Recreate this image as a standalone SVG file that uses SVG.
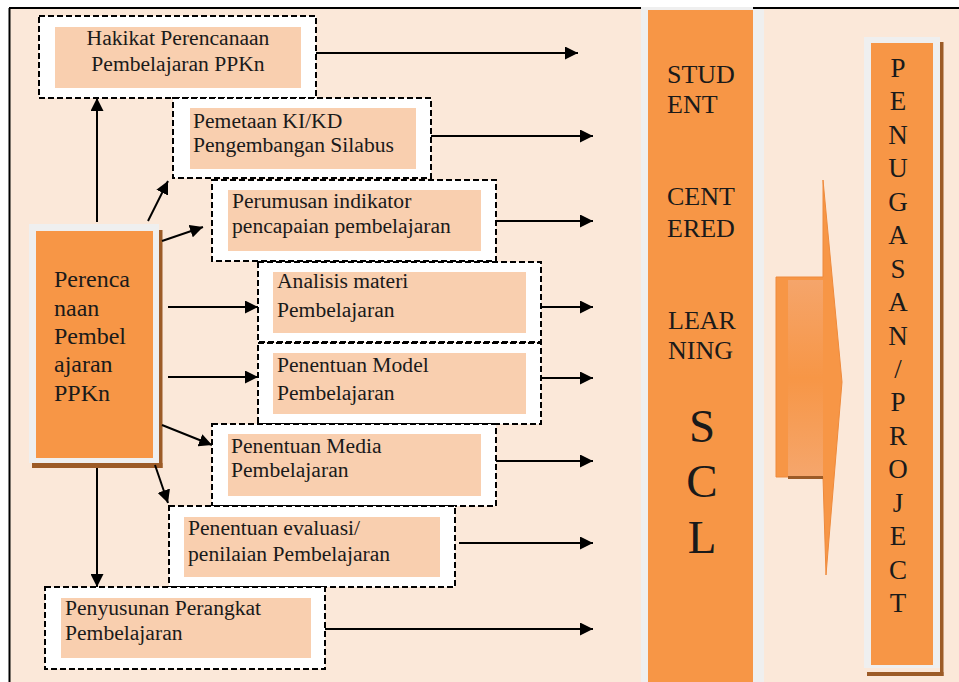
<svg xmlns="http://www.w3.org/2000/svg" width="959" height="682" viewBox="0 0 959 682">
<style>
.dash{fill:#FFFFFF;stroke:#000;stroke-width:2;stroke-dasharray:6 3}
.lab{fill:#F9CFAF}
.t{font-family:"Liberation Serif","Times New Roman",serif;font-size:21.6px;fill:#1a1a1a}
.big{font-family:"Liberation Serif","Times New Roman",serif;font-size:26px;fill:#1a1a1a}
.ln{stroke:#000;stroke-width:2;fill:none}
</style>
<defs>
<marker id="ah" markerUnits="userSpaceOnUse" markerWidth="13" markerHeight="13" refX="13" refY="6.5" orient="auto" viewBox="0 0 13 13">
<path d="M0,0 L13,6.5 L0,13 z" fill="#000"/>
</marker>
<linearGradient id="ag" x1="0" y1="0" x2="0" y2="1">
<stop offset="0" stop-color="#F5A56B"/>
<stop offset="0.5" stop-color="#F79646"/>
<stop offset="1" stop-color="#F5A66C"/>
</linearGradient>
</defs>
<rect x="0" y="0" width="959" height="682" fill="#FFFFFF"/>
<rect x="9" y="8" width="950" height="674" fill="#FBE8D9"/>
<line x1="9.5" y1="8" x2="9.5" y2="682" stroke="#000" stroke-width="2"/>
<line x1="9" y1="8" x2="641" y2="8" stroke="#000" stroke-width="2"/>

<g id="scl">
<rect x="641" y="7" width="123" height="675" fill="#EFEFEF"/>
<rect x="648" y="10" width="105" height="672" fill="#F79646"/>
<text class="big" x="667" y="83">STUD</text>
<text class="big" x="667" y="113">ENT</text>
<text class="big" x="667" y="205">CENT</text>
<text class="big" x="667" y="237">ERED</text>
<text class="big" x="668" y="329">LEAR</text>
<text class="big" x="668" y="359">NING</text>
<text class="big" x="702" y="442" text-anchor="middle" style="font-size:47px">S</text>
<text class="big" x="702" y="497" text-anchor="middle" style="font-size:47px">C</text>
<text class="big" x="702" y="553" text-anchor="middle" style="font-size:47px">L</text>
</g>
<line x1="753" y1="8" x2="959" y2="8" stroke="#000" stroke-width="2"/>

<g id="bigarrow">
<polygon points="776,277 823,277 823,180 842,382 826,575 823,477 776,477" fill="#F79646" stroke="#EE8A3C" stroke-width="1"/>
<rect x="788" y="280" width="35" height="196" fill="url(#ag)"/>
<rect x="788" y="476" width="35" height="3" fill="#9C5B27"/>
</g>

<g id="penugasan">
<rect x="940" y="42" width="3.5" height="634" fill="#9C5B27"/>
<rect x="867" y="672" width="76.5" height="4" fill="#9C5B27"/>
<rect x="864" y="37" width="76" height="631" fill="#EFEFEF"/>
<rect x="871" y="43" width="62" height="622" fill="#F79646"/>
<g class="big" text-anchor="middle" style="font-size:27px">
<text x="898" y="77">P</text>
<text x="898" y="110.4">E</text>
<text x="898" y="143.9">N</text>
<text x="898" y="177.3">U</text>
<text x="898" y="210.8">G</text>
<text x="898" y="244.2">A</text>
<text x="898" y="277.6">S</text>
<text x="898" y="311.1">A</text>
<text x="898" y="344.5">N</text>
<text x="898" y="378">/</text>
<text x="898" y="411.4">P</text>
<text x="898" y="444.8">R</text>
<text x="898" y="478.3">O</text>
<text x="898" y="511.7">J</text>
<text x="898" y="545.2">E</text>
<text x="898" y="578.6">C</text>
<text x="898" y="612">T</text>
</g>
</g>

<g id="main">
<rect x="159" y="230" width="3.5" height="238" fill="#9C5B27"/>
<rect x="32" y="463" width="130.5" height="5" fill="#9C5B27"/>
<rect x="29" y="224" width="130" height="239" fill="#EFEFEF"/>
<rect x="36" y="231" width="117" height="227" fill="#F79646"/>
<g class="t" style="font-size:24px">
<text x="54" y="287">Perenca</text>
<text x="54" y="316">naan</text>
<text x="54" y="344">Pembel</text>
<text x="54" y="372">ajaran</text>
<text x="54" y="401">PPKn</text>
</g>
</g>

<g id="box1">
<rect class="dash" x="39" y="16" width="277" height="82"/>
<rect class="lab" x="55" y="27" width="246" height="61"/>
<text class="t" x="178" y="45" text-anchor="middle">Hakikat Perencanaan</text>
<text class="t" x="178" y="71" text-anchor="middle">Pembelajaran PPKn</text>
</g>
<g id="box2">
<rect class="dash" x="173" y="98" width="258" height="80"/>
<rect class="lab" x="190" y="108" width="226" height="61"/>
<text class="t" x="193" y="128">Pemetaan KI/KD</text>
<text class="t" x="193" y="152">Pengembangan Silabus</text>
</g>
<g id="box3">
<rect class="dash" x="212" y="180" width="284" height="81"/>
<rect class="lab" x="228" y="190" width="253" height="61"/>
<text class="t" x="232" y="208">Perumusan indikator</text>
<text class="t" x="232" y="233">pencapaian pembelajaran</text>
</g>
<g id="box4">
<rect class="dash" x="258" y="262" width="283" height="80"/>
<rect class="lab" x="273" y="272" width="253" height="61"/>
<text class="t" x="277" y="288">Analisis materi</text>
<text class="t" x="277" y="317">Pembelajaran</text>
</g>
<g id="box5">
<rect class="dash" x="258" y="343" width="283" height="81"/>
<rect class="lab" x="273" y="353" width="253" height="61"/>
<text class="t" x="277" y="372">Penentuan Model</text>
<text class="t" x="277" y="400">Pembelajaran</text>
</g>
<g id="box6">
<rect class="dash" x="212" y="424" width="284" height="82"/>
<rect class="lab" x="228" y="434" width="253" height="62"/>
<text class="t" x="231" y="453">Penentuan Media</text>
<text class="t" x="231" y="477">Pembelajaran</text>
</g>
<g id="box7">
<rect class="dash" x="169" y="506" width="286" height="81"/>
<rect class="lab" x="184" y="517" width="256" height="60"/>
<text class="t" x="188" y="535">Penentuan evaluasi/</text>
<text class="t" x="188" y="561">penilaian Pembelajaran</text>
</g>
<g id="box8">
<rect class="dash" x="45" y="587" width="280" height="82"/>
<rect class="lab" x="61" y="598" width="250" height="60"/>
<text class="t" x="65" y="615">Penyusunan Perangkat</text>
<text class="t" x="65" y="640">Pembelajaran</text>
</g>

<g id="connectors" class="ln" marker-end="url(#ah)">
<line x1="97" y1="222" x2="97" y2="98"/>
<line x1="148" y1="221" x2="168" y2="181"/>
<line x1="162" y1="241" x2="203" y2="227"/>
<line x1="168" y1="307" x2="258" y2="307"/>
<line x1="168" y1="377" x2="258" y2="377"/>
<line x1="162" y1="425" x2="212" y2="445"/>
<line x1="155" y1="465" x2="168" y2="503"/>
<line x1="97" y1="468" x2="97" y2="587"/>
<line x1="316" y1="53" x2="578" y2="53"/>
<line x1="431" y1="136" x2="593" y2="136"/>
<line x1="496" y1="221" x2="593" y2="221"/>
<line x1="541" y1="307" x2="593" y2="307"/>
<line x1="541" y1="378" x2="593" y2="378"/>
<line x1="496" y1="461" x2="593" y2="461"/>
<line x1="459" y1="543" x2="593" y2="543"/>
<line x1="325" y1="629" x2="593" y2="629"/>
</g>
</svg>
